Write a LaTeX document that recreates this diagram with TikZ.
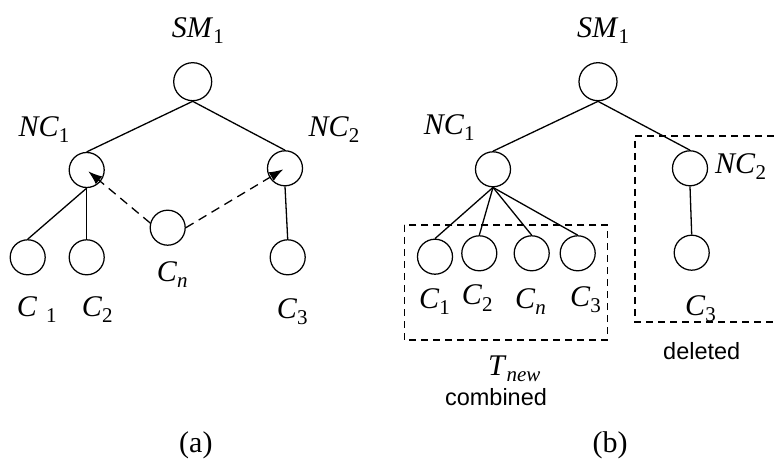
\documentclass[tikz,border=0pt]{standalone}
\usepackage{fontspec}
\setmainfont{Liberation Serif}
\newfontfamily\arialf{Liberation Sans}
\usetikzlibrary{arrows.meta}
\newcommand{\lbl}[2]{\textit{#1}\raisebox{-6pt}{\fontsize{21}{21}\selectfont #2}}
\begin{document}
\begin{tikzpicture}[x=1pt,y=-1pt,
  nd/.style={circle,draw,line width=1.25pt,minimum size=35pt,inner sep=0pt},
  ndbig/.style={circle,draw,line width=1.25pt,minimum size=38pt,inner sep=0pt},
  lab/.style={anchor=base west,inner sep=0pt,font=\fontsize{30}{30}\selectfont},
  txt/.style={inner sep=0pt,font=\arialf\fontsize{23.5}{23.5}\selectfont},
  edge/.style={line width=1.3pt},
  darr/.style={line width=1.3pt,dash pattern=on 9pt off 6pt,-{Latex[length=14pt,width=10pt]},shorten >=2pt},
  dbox/.style={line width=1.3pt,dash pattern=on 7pt off 5pt}]
\useasboundingbox (0,0) rectangle (774,473);
% ---------- panel (a)
\node[ndbig] (sma) at (192.7,81.7) {};
\node[nd] (nc1a) at (86.7,170) {};
\node[nd] (nc2a) at (285,168.3) {};
\node[nd] (cna) at (167.7,227.7) {};
\node[nd] (c1a) at (27.7,257.3) {};
\node[nd] (c2a) at (86.7,257.3) {};
\node[nd] (c3a) at (287.7,257.3) {};
\draw[edge] (sma.south) -- (nc1a.north);
\draw[edge] (sma.south) -- (nc2a.north);
\draw[edge] (nc1a.south) -- (c1a.north);
\draw[edge] (nc1a.south) -- (c2a.north);
\draw[edge] (nc2a.south) -- (c3a.north);
\draw[darr] (cna.165) -- (nc1a.center);
\draw[darr] (cna.east) -- (nc2a.center);
\node[lab] (lsma) at (171.7,37.7) {\lbl{SM}{1}};
\node[lab] (lnc1a) at (18.3,136.7) {\lbl{NC}{1}};
\node[lab] (lnc2a) at (308.3,136.7) {\lbl{NC}{2}};
\node[lab] (lcna) at (156.7,281.7) {\lbl{C}{\textit{n}}};
\node[lab] (lc1a) at (16.7,316.7) {\lbl{C}{\hspace{9pt}1}};
\node[lab] (lc2a) at (81.7,316.7) {\lbl{C}{2}};
\node[lab] (lc3a) at (276.7,318.3) {\lbl{C}{3}};
\node[anchor=base west,inner sep=0pt,font=\fontsize{30}{30}\selectfont] (capa) at (179,452) {(a)};
% ---------- panel (b)
\node[ndbig] (smb) at (598,81.7) {};
\node[nd] (nc1b) at (493,169.3) {};
\node[nd] (nc2b) at (690,168.3) {};
\node[nd] (c1b) at (435,256.7) {};
\node[nd] (c2b) at (479.3,253.3) {};
\node[nd] (cnb) at (531.7,253.3) {};
\node[nd] (c3b) at (577.7,253.3) {};
\node[nd] (c3r) at (691.7,252.7) {};
\draw[edge] (smb.south) -- (nc1b.north);
\draw[edge] (smb.south) -- (nc2b.north);
\draw[edge] (nc1b.south) -- (c1b.north);
\draw[edge] (nc1b.south) -- (c2b.north);
\draw[edge] (nc1b.south) -- (cnb.north);
\draw[edge] (nc1b.south) -- (c3b.north);
\draw[edge] (nc2b.south) -- (c3r.north);
\draw[dbox] (404.3,225) rectangle (607.3,340);
\draw[dbox] (774,136) -- (635,136) -- (635,322) -- (774,322);
\node[lab] (lsmb) at (577,37.7) {\lbl{SM}{1}};
\node[lab] (lnc1b) at (423.7,135) {\lbl{NC}{1}};
\node[lab] (lnc2b) at (715,173.3) {\lbl{NC}{2}};
\node[lab] (lc1b) at (419,308.3) {\lbl{C}{1}};
\node[lab] (lc2b) at (461.7,305) {\lbl{C}{2}};
\node[lab] (lcnb) at (515,308.3) {\lbl{C}{\textit{n}}};
\node[lab] (lc3b) at (570,306.7) {\lbl{C}{3}};
\node[lab] (lc3r) at (685,315) {\lbl{C}{3}};
\node[lab] (ltnew) at (488,375) {\lbl{T}{\textit{new}}};
\node[txt,anchor=base] (comb) at (496,405) {combined};
\node[txt,anchor=base west] (del) at (663,359.3) {deleted};
\node[anchor=base west,inner sep=0pt,font=\fontsize{30}{30}\selectfont] (capb) at (592.5,452) {(b)};
\end{tikzpicture}
\end{document}
